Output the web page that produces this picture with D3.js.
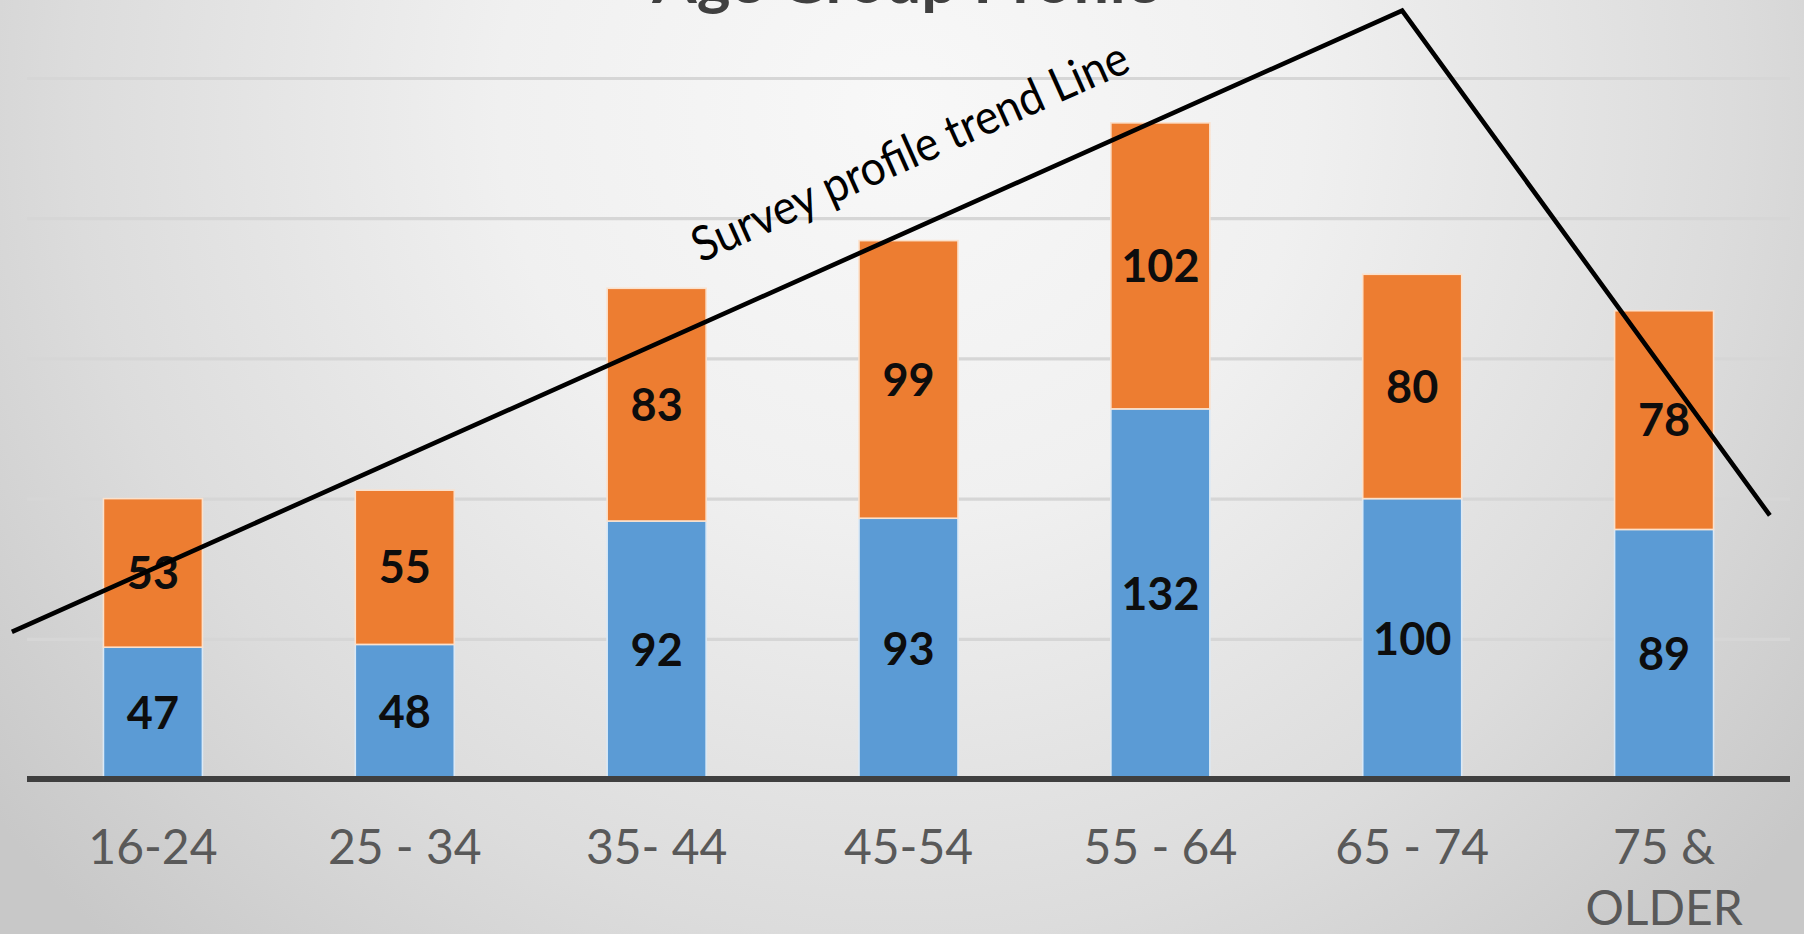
<!DOCTYPE html>
<html>
<head>
<meta charset="utf-8">
<script src="https://cdn.jsdelivr.net/npm/d3@7"></script>
<style>
  html, body { margin: 0; padding: 0; background: #e6e6e6; }
  svg { display: block; }
</style>
</head>
<body>
<div id="chart"></div>
<script>
// ---- data ----
const categories = ["16-24", "25 - 34", "35- 44", "45-54", "55 - 64", "65 - 74", "75 & OLDER"];
const categoryLines = [["16-24"], ["25 - 34"], ["35- 44"], ["45-54"], ["55 - 64"], ["65 - 74"], ["75 &", "OLDER"]];
const seriesBlue = [47, 48, 92, 93, 132, 100, 89];
const seriesOrange = [53, 55, 83, 99, 102, 80, 78];
const yTicks = [0, 50, 100, 150, 200, 250];
const titleText = "Age Group Profile";
// trend annotation: position in category-index units and value units
const trendIndex = [-0.56, 4.96, 6.42];
const trendValue = [52.5, 274, 94];
const trendLabel = "Survey profile trend Line";
const trendLabelAt = { index: 2.175, value: 184 };

// ---- layout ----
const W = 1804, H = 934;
const svg = d3.select("#chart").append("svg").attr("width", W).attr("height", H);
const defs = svg.append("defs");

const bg = defs.append("radialGradient").attr("id", "bg")
  .attr("gradientUnits", "userSpaceOnUse")
  .attr("cx", 902).attr("cy", 110).attr("r", 1150);
bg.append("stop").attr("offset", 0).attr("stop-color", "#f8f8f8");
bg.append("stop").attr("offset", 0.35).attr("stop-color", "#f0f0f0");
bg.append("stop").attr("offset", 0.72).attr("stop-color", "#dcdcdc");
bg.append("stop").attr("offset", 1).attr("stop-color", "#c8c8c8");
svg.append("rect").attr("width", W).attr("height", H).attr("fill", "url(#bg)");

const gridGrad = defs.append("linearGradient").attr("id", "gridGrad")
  .attr("gradientUnits", "userSpaceOnUse")
  .attr("x1", 0).attr("y1", 70).attr("x2", 0).attr("y2", 650);
gridGrad.append("stop").attr("offset", 0).attr("stop-color", "#d6d6d6");
gridGrad.append("stop").attr("offset", 1).attr("stop-color", "#9e9e9e");

const x = d3.scaleBand().domain(categories).range([27, 1790])
  .paddingInner(0.607).paddingOuter(0.3035);
const y = d3.scaleLinear().domain([0, 250]).range([779, 78]);
const xi = d3.scaleLinear().domain([0, 1])
  .range([x(categories[0]) + x.bandwidth() / 2, x(categories[0]) + x.bandwidth() / 2 + x.step()]);

// gridlines
const grid = svg.append("g")
  .attr("transform", "translate(27,0)")
  .call(d3.axisLeft(y).tickValues(yTicks.filter(d => d > 0)).tickSize(-1763).tickFormat(""));
grid.select(".domain").remove();
grid.selectAll(".tick line").attr("stroke", "url(#gridGrad)").attr("stroke-width", 3.2);

// bars
const stackData = categories.map((c, i) => ({ cat: c, blue: seriesBlue[i], orange: seriesOrange[i] }));
const stack = d3.stack().keys(["blue", "orange"])(stackData);
const colors = { blue: "#5b9bd5", orange: "#ed7d31" };
const edge = { blue: "#dbe9f6", orange: "#fbe1cc" };

stack.forEach(layer => {
  const g = svg.append("g");
  g.selectAll("rect").data(layer).join("rect")
    .attr("x", d => x(d.data.cat))
    .attr("width", x.bandwidth())
    .attr("y", d => y(d[1]))
    .attr("height", d => y(d[0]) - y(d[1]))
    .attr("fill", colors[layer.key])
    .attr("stroke", edge[layer.key])
    .attr("stroke-width", 1.6);
});

// baseline axis
const xAxis = svg.append("g").attr("transform", `translate(0,${y(0)})`)
  .call(d3.axisBottom(x).tickSize(0).tickFormat(""));
xAxis.select(".domain").attr("stroke", "#3f3f3f").attr("stroke-width", 6)
  .attr("d", `M27,0H1790`);

// category labels
const catG = svg.append("g");
categories.forEach((c, i) => {
  const t = catG.append("text")
    .attr("x", x(c) + x.bandwidth() / 2)
    .attr("y", 864)
    .attr("text-anchor", "middle")
    .attr("font-family", "Lato, 'Open Sans', sans-serif")
    .attr("font-size", 48)
    .attr("fill", "#595959");
  categoryLines[i].forEach((line, k) => {
    t.append("tspan").attr("x", x(c) + x.bandwidth() / 2)
      .attr("dy", k === 0 ? 0 : 61).text(line);
  });
});

// value labels
stack.forEach(layer => {
  svg.append("g").selectAll("text").data(layer).join("text")
    .attr("x", d => x(d.data.cat) + x.bandwidth() / 2)
    .attr("y", d => (y(d[0]) + y(d[1])) / 2)
    .attr("dy", "0.36em")
    .attr("text-anchor", "middle")
    .attr("font-family", "Lato, 'Open Sans', sans-serif")
    .attr("font-weight", "bold")
    .attr("font-size", 45)
    .attr("fill", "#0d0d0d")
    .text(d => d.data[layer.key]);
});

// title (mostly above the frame)
svg.append("text")
  .attr("x", 906).attr("y", 3)
  .attr("text-anchor", "middle")
  .attr("font-family", "Lato, 'Open Sans', sans-serif")
  .attr("font-weight", "bold")
  .attr("font-size", 64)
  .attr("fill", "#404040")
  .text(titleText);

// trend line
const trendPts = trendIndex.map((d, i) => [xi(d), y(trendValue[i])]);
svg.append("path")
  .attr("d", d3.line()(trendPts))
  .attr("fill", "none")
  .attr("stroke", "#000")
  .attr("stroke-width", 4.6)
  .attr("stroke-linejoin", "miter");

const ang = Math.atan2(trendPts[1][1] - trendPts[0][1], trendPts[1][0] - trendPts[0][0]) * 180 / Math.PI;
const lx = xi(trendLabelAt.index), ly = y(trendLabelAt.value);
svg.append("text")
  .attr("transform", `translate(${lx},${ly}) rotate(${ang})`)
  .attr("font-family", "Lato, 'Open Sans', sans-serif")
  .attr("font-size", 48)
  .attr("textLength", 473)
  .attr("lengthAdjust", "spacingAndGlyphs")
  .attr("fill", "#000")
  .text(trendLabel);
</script>
</body>
</html>
